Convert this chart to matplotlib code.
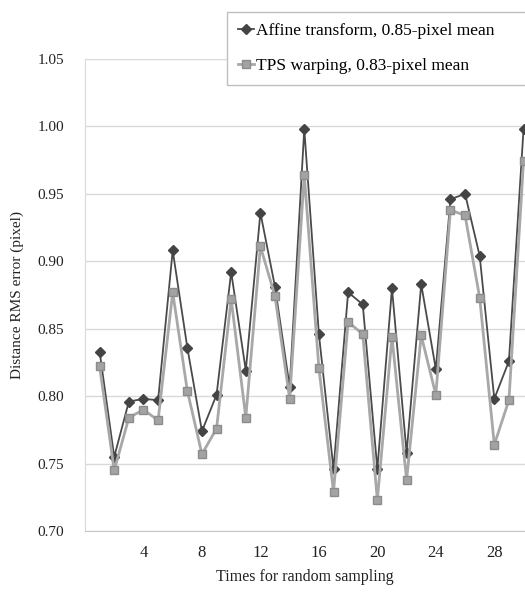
import matplotlib
matplotlib.use('Agg')
import matplotlib.pyplot as plt
import numpy as np

# sampling runs 1..30
sampling_times = list(range(1, 31))

# distance RMS error (pixel)
affine_rms = [0.833, 0.755, 0.796, 0.798, 0.797, 0.908, 0.836, 0.774, 0.801, 0.892,
              0.819, 0.936, 0.881, 0.807, 0.998, 0.846, 0.746, 0.877, 0.868, 0.746,
              0.880, 0.758, 0.883, 0.820, 0.946, 0.950, 0.904, 0.798, 0.826, 0.998]
tps_rms = [0.822, 0.745, 0.784, 0.790, 0.782, 0.877, 0.804, 0.757, 0.776, 0.872,
           0.784, 0.911, 0.874, 0.798, 0.964, 0.821, 0.729, 0.855, 0.846, 0.723,
           0.844, 0.738, 0.845, 0.801, 0.938, 0.934, 0.873, 0.764, 0.797, 0.974]

affine_label = 'Affine transform, 0.85-pixel mean'
tps_label = 'TPS warping, 0.83-pixel mean'
x_ticks = [4, 8, 12, 16, 20, 24, 28]
y_ticks = [0.70, 0.75, 0.80, 0.85, 0.90, 0.95, 1.00, 1.05]

plt.rcParams['font.family'] = ['Liberation Serif', 'DejaVu Serif']

W, H = 525, 592
fig = plt.figure(figsize=(W / 100, H / 100), dpi=100)
ax = fig.add_axes([85 / W, 1 - 531 / H, (W - 85) / W, (531 - 59) / H])

ax.plot(sampling_times, affine_rms, color='#4a4a4a', lw=1.3, marker='D', ms=5,
        mfc='#444444', mec='#444444', label=affine_label, zorder=3)
ax.plot(sampling_times, tps_rms, color='#a8a8a8', lw=2.0, marker='s', ms=6,
        mfc='#a3a3a3', mec='#8c8c8c', label=tps_label, zorder=4)

ax.set_xlim(0, 30.1)
ax.set_ylim(0.70, 1.05)
ax.set_xticks(x_ticks)
ax.set_yticks(y_ticks)
ax.set_yticklabels(['%.2f' % v for v in y_ticks])
ax.tick_params(axis='both', length=0, colors='#222222')
ax.tick_params(axis='y', pad=15, labelsize=11)
ax.tick_params(axis='x', pad=10, labelsize=12)
ax.grid(axis='y', color='#d9d9d9', lw=1)
ax.set_axisbelow(True)
for side in ['top', 'right']:
    ax.spines[side].set_visible(False)
ax.spines['left'].set_color('#d9d9d9')
ax.spines['bottom'].set_color('#c8c8c8')

ax.set_xlabel('Times for random sampling', fontsize=11.5, labelpad=6, color='#222222')
ax.set_ylabel('Distance RMS error (pixel)', fontsize=11, labelpad=10, color='#222222')

leg = fig.legend(loc='upper left', mode='expand',
                 bbox_to_anchor=(227 / W, 1 - 80 / H, (W - 227 + 10) / W, 68 / H),
                 fontsize=12.5, handlelength=0.9, handletextpad=0.1, labelspacing=1.05,
                 borderpad=0.65, fancybox=False, framealpha=1, borderaxespad=0)
leg.get_frame().set_edgecolor('#bfbfbf')
leg.get_frame().set_linewidth(1)

fig.savefig('out.png', dpi=100)
